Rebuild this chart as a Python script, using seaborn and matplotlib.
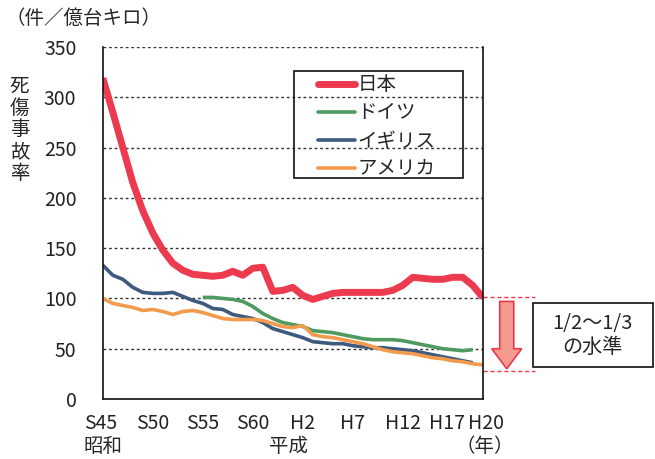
import numpy as np
import pandas as pd
import matplotlib
matplotlib.use("Agg")
import matplotlib.pyplot as plt
from matplotlib.patches import FancyArrow, Rectangle
from matplotlib.transforms import ScaledTranslation
import seaborn as sns

# years S45 (1970) .. H20 (2008)
years = list(range(1970, 2009))

japan = [319, 285, 250, 215, 187, 165, 148, 135, 128, 124,
         123, 122, 123, 127, 123, 130, 131, 107, 108, 111,
         103, 99, 102, 105, 106, 106, 106, 106, 106, 108,
         113, 121, 120, 119, 119, 121, 121, 113, 101]
germany = [np.nan] * 10 + [101, 101, 100, 99, 97, 92, 85, 80, 76, 74,
                           72, 68, 67, 66, 64, 62, 60, 59, 59, 59,
                           58, 56, 54, 52, 50, 49, 48, 49, np.nan]
uk = [133, 123, 119, 111, 106, 105, 105, 106, 102, 98,
      95, 90, 89, 84, 82, 80, 76, 70, 67, 64,
      61, 57, 56, 55, 55, 53, 52, 51, 51, 50,
      49, 48, 46, 44, 42, 40, 38, 36, np.nan]
usa = [100, 95, 93, 91, 88, 89, 87, 84, 87, 88,
       86, 83, 80, 79, 79, 79, 78, 75, 72, 71,
       73, 64, 62, 61, 59, 57, 55, 52, 49, 47,
       46, 45, 43, 41, 40, 38, 37, 35, 34]

countries = ["日本", "ドイツ", "イギリス", "アメリカ"]
colors = ["#EC3A4E", "#4F9A5F", "#3E5A7E", "#F39B4C"]
widths = [5.0, 2.6, 2.6, 2.6]

tick_years = [1970, 1975, 1980, 1985, 1990, 1995, 2000, 2005, 2008]
tick_labels = ["S45", "S50", "S55", "S60", "H2", "H7", "H12", "H17", "H20"]

df = pd.DataFrame({"year": years, "日本": japan, "ドイツ": germany,
                   "イギリス": uk, "アメリカ": usa})
long_df = df.melt(id_vars="year", var_name="country", value_name="rate").dropna()

sns.set_theme(style="white")
plt.rcParams["font.family"] = ["Noto Sans CJK JP", "DejaVu Sans"]

fig = plt.figure(figsize=(6.55, 4.59), dpi=100)
ax = fig.add_axes([0.157, 0.1307, 0.58, 0.767])

for name, col, lw in zip(countries, colors, widths):
    sns.lineplot(data=long_df[long_df["country"] == name], x="year", y="rate",
                 color=col, linewidth=lw, label=name, ax=ax,
                 solid_capstyle="butt")

ax.set_xlim(1970, 2008)
ax.set_ylim(0, 350)
ax.set_yticks(range(0, 351, 50))
ax.set_xticks(tick_years)
ax.set_xticklabels(tick_labels)
ax.set_xlabel("")
ax.set_ylabel("")
ax.tick_params(axis="y", length=0, pad=19, labelsize=14, colors="#222222")
ax.tick_params(axis="x", direction="in", length=4, width=1, pad=10,
               labelsize=14, colors="#222222")

# nudge the crowded right-hand labels apart like the original
for lab, dx in zip(ax.get_xticklabels(), [-2, 0, 0, 0, 0, 0, 0, -6, 3]):
    lab.set_transform(lab.get_transform()
                      + ScaledTranslation(dx / 100, 0, fig.dpi_scale_trans))

ax.yaxis.grid(True, linestyle=(0, (2, 2)), color="#333333", linewidth=1)
ax.xaxis.grid(False)
ax.spines["top"].set_visible(False)
for s in ["left", "right", "bottom"]:
    ax.spines[s].set_color("#111111")
    ax.spines[s].set_linewidth(1.2)

# legend: entries without frame, frame drawn as a box for the wider padding
leg = ax.legend(loc="upper left", bbox_to_anchor=(0.566, 0.922), fontsize=14,
                frameon=False, handlelength=1.9, handletextpad=0.15,
                labelspacing=0.36, borderaxespad=0, borderpad=0)
for line in leg.get_lines():
    line.set_solid_capstyle("round")
ax.add_patch(Rectangle((0.503, 0.628), 0.444, 0.304, transform=ax.transAxes,
                       facecolor="none", edgecolor="#111111", linewidth=1.2,
                       zorder=6))

# texts around the axes
fig.text(0.008, 0.96, "（件／億台キロ）", fontsize=14, va="center", ha="left")
fig.text(0.03, 0.717, "死\n傷\n事\n故\n率", fontsize=14, va="center",
         ha="center", linespacing=1.05)
row2 = 1 - 446 / 459
fig.text(103 / 655, row2, "昭和", fontsize=14, ha="center", va="center")
fig.text(288 / 655, row2, "平成", fontsize=14, ha="center", va="center")
fig.text(485 / 655, row2, "（年）", fontsize=14, ha="center", va="center")

# 1/2 ~ 1/3 annotation
red = "#E8394A"
for yv in [101, 28]:
    ax.plot([2008, 2013.2], [yv, yv], linestyle=(0, (3, 2)), color=red,
            linewidth=1, clip_on=False)
arrow = FancyArrow(2010.4, 97, 0, -67, width=1.4, head_width=3.0,
                   head_length=20, length_includes_head=True,
                   facecolor="#F49A8E", edgecolor=red, linewidth=1.2,
                   clip_on=False)
ax.add_patch(arrow)
box = Rectangle((2013.0, 32), 12.0, 63, facecolor="white", edgecolor="#111111",
                linewidth=1.2, clip_on=False)
ax.add_patch(box)
ax.text(2019.0, 63.5, "1/2～1/3\nの水準", fontsize=14.5, ha="center",
        va="center", linespacing=1.2, clip_on=False)

fig.savefig("out.png", dpi=100)
